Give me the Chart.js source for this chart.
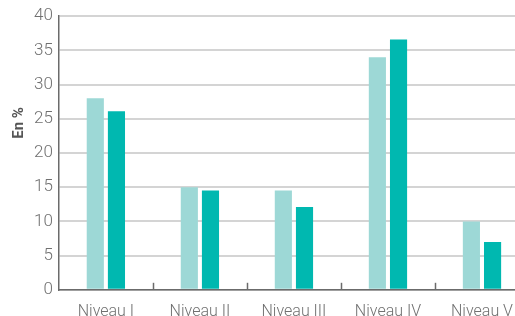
<!DOCTYPE html>
<html>
<head>
<meta charset="utf-8">
<script src="https://cdn.jsdelivr.net/npm/chart.js@4"></script>
<style>
  html, body { margin: 0; padding: 0; background: #fff; overflow: hidden; }
  #wrap { position: absolute; left: 0; top: 0; width: 529px; height: 335px; }
</style>
</head>
<body>
<div id="wrap"><canvas id="grafico"></canvas></div>
<script>
const niveaux = ['Niveau I', 'Niveau II', 'Niveau III', 'Niveau IV', 'Niveau V'];
const serieClaire = [28, 15, 14.5, 34, 10];
const serieFoncee = [26.1, 14.5, 12.1, 36.6, 7];
const ticksY = [0, 5, 10, 15, 20, 25, 30, 35, 40];

const couleurAxe = '#6b6b6b';
const couleurTexte = '#707070';

// petits traits vers l'intérieur entre les catégories
const traitsCategories = {
    id: 'traitsCategories',
    afterDatasetsDraw(chart) {
        const x = chart.scales.x, ctx = chart.ctx, bas = chart.chartArea.bottom;
        ctx.save();
        ctx.strokeStyle = couleurAxe;
        ctx.lineWidth = 1.5;
        for (let i = 1; i < niveaux.length; i++) {
            const px = Math.round((x.getPixelForValue(i - 1) + x.getPixelForValue(i)) / 2) + 0.5;
            ctx.beginPath();
            ctx.moveTo(px, bas - 7);
            ctx.lineTo(px, bas);
            ctx.stroke();
        }
        ctx.restore();
    }
};

// titre de l'axe Y
const titreY = {
    id: 'titreY',
    afterDraw(chart) {
        const ctx = chart.ctx, a = chart.chartArea;
        ctx.save();
        ctx.translate(19, a.top + (a.bottom - a.top) * 0.39);
        ctx.rotate(-Math.PI / 2);
        ctx.font = 'bold 15px Roboto';
        ctx.fillStyle = '#555';
        ctx.textAlign = 'center';
        ctx.textBaseline = 'middle';
        ctx.fillText('En %', 0, 0);
        ctx.restore();
    }
};

new Chart(document.getElementById('grafico'), {
    type: 'bar',
    data: {
        labels: niveaux,
        datasets: [
            { label: 'A', data: serieClaire, backgroundColor: '#9dd8d6' },
            { label: 'B', data: serieFoncee, backgroundColor: '#00b8b0' }
        ]
    },
    options: {
        responsive: true, maintainAspectRatio: false, animation: false,
        categoryPercentage: 0.45, barPercentage: 0.81,
        layout: { padding: { left: 28, top: 10, right: 0, bottom: 0 } },
        plugins: { legend: { display: false }, tooltip: { enabled: false } },
        scales: {
            x: {
                grid: { display: false, drawTicks: false },
                border: { color: couleurAxe, width: 1.5 },
                ticks: { color: couleurTexte, padding: 13, font: { family: 'Roboto', size: 16, weight: 300 } }
            },
            y: {
                min: 0, max: 40,
                afterBuildTicks: (s) => { s.ticks = ticksY.map(v => ({ value: v })); },
                grid: { color: '#d4d4d4', lineWidth: 2, drawTicks: false },
                border: { color: couleurAxe, width: 1.5 },
                ticks: { color: couleurTexte, padding: 6, font: { family: 'Roboto', size: 17, weight: 300 } }
            }
        }
    },
    plugins: [traitsCategories, titreY]
});
</script>
</body>
</html>
